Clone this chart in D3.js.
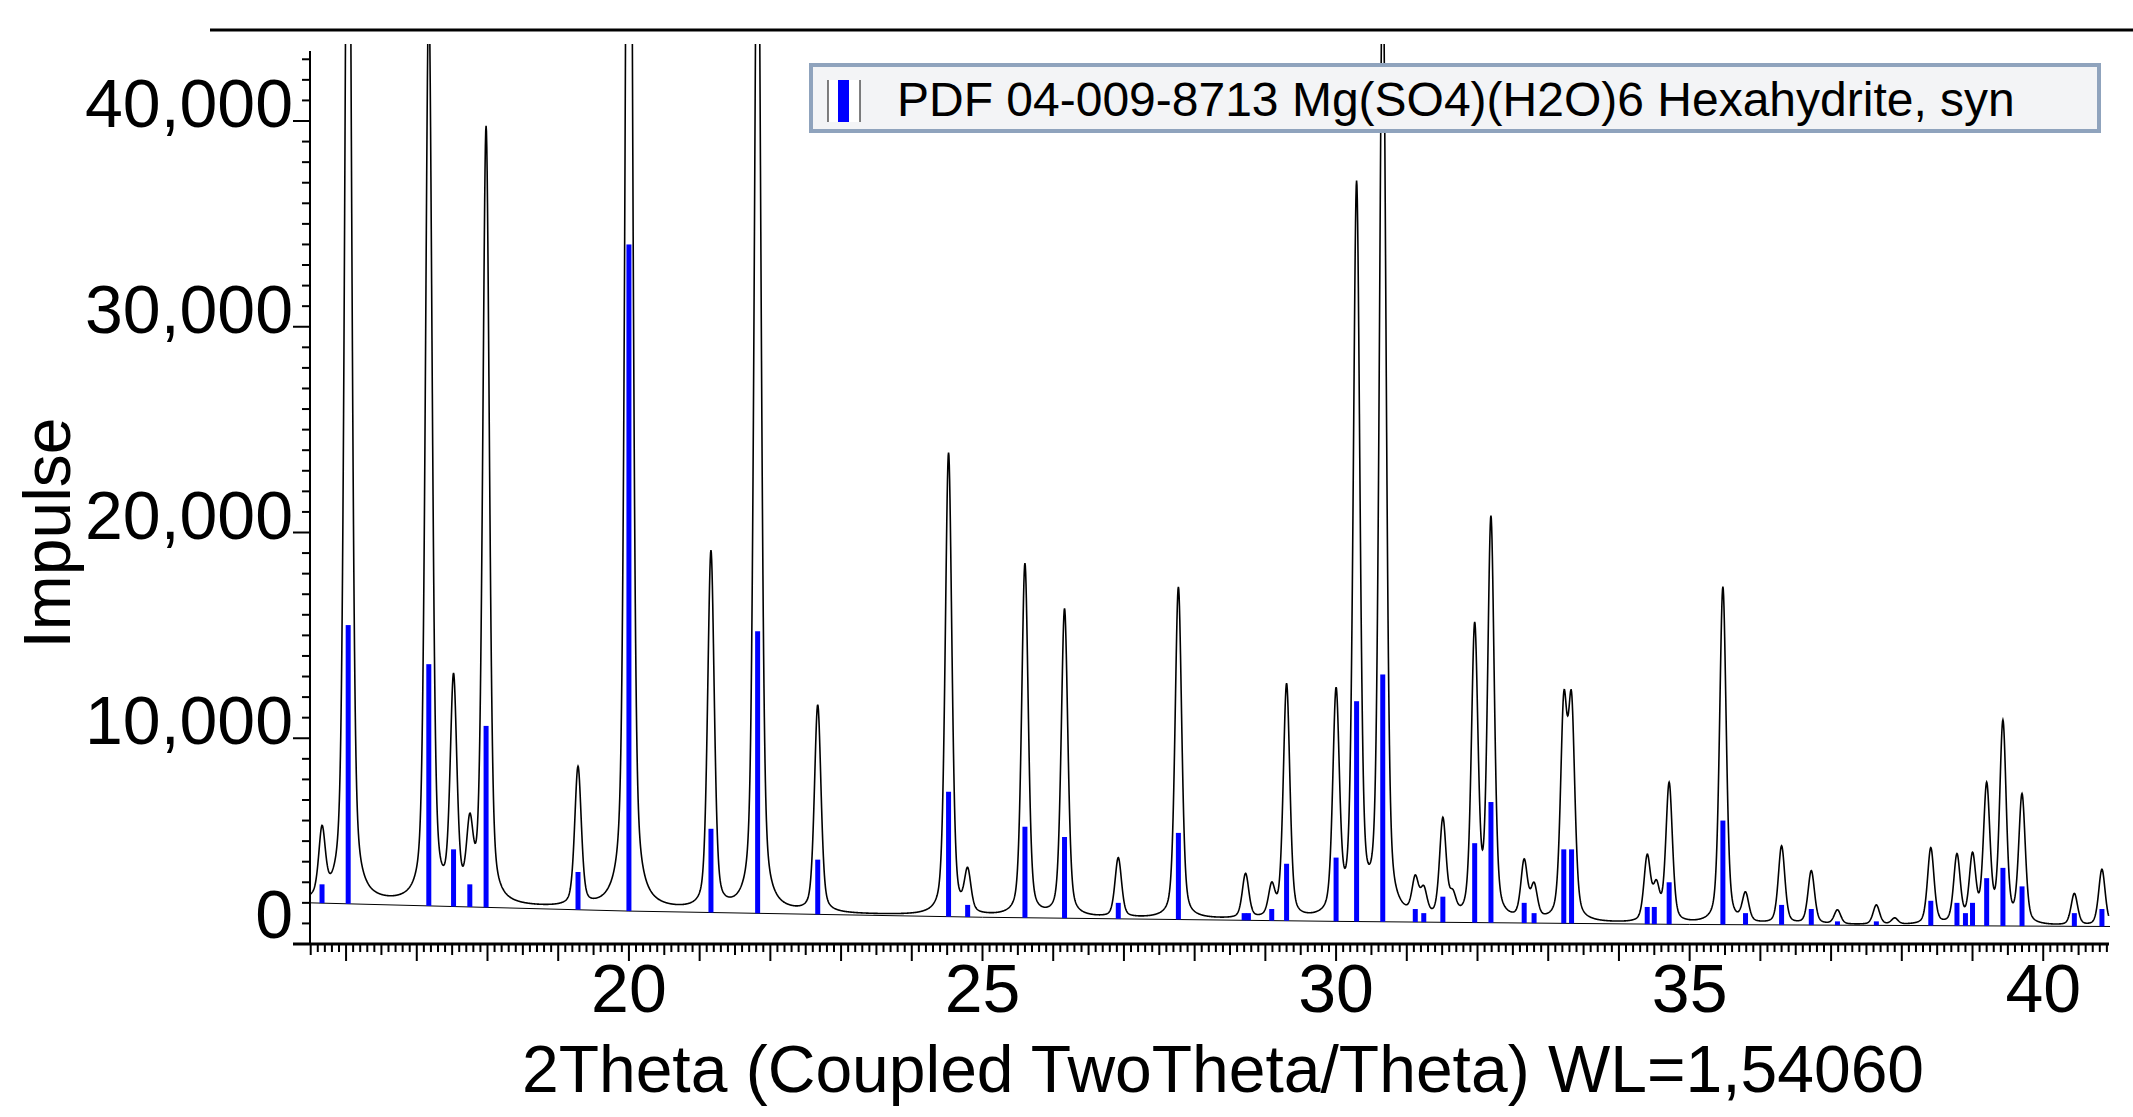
<!DOCTYPE html>
<html>
<head>
<meta charset="utf-8">
<script src="https://cdn.jsdelivr.net/npm/d3@7"></script>
<style>
  body { margin: 0; background: #fff; }
  text { font-family: "Liberation Sans", Arial, sans-serif; fill: #000; }
</style>
</head>
<body>
<div id="chart"></div>
<script>
// measured peaks: 2theta position and top of peak (counts incl. background)
var peakPos = [15.66, 16.03, 17.17, 17.52, 17.75, 17.98, 19.28, 20.0, 21.16, 21.82, 22.67,
  24.52, 24.79, 25.60, 26.16, 26.92, 27.77, 28.72, 29.09, 29.30, 30.0, 30.29, 30.66,
  31.12, 31.24, 31.51, 31.65, 31.96, 32.19, 32.66, 32.80, 33.22, 33.33, 34.40, 34.53,
  34.71, 35.47, 35.79, 36.30, 36.72, 37.09, 37.64, 37.90, 38.41, 38.78, 39.00, 39.20,
  39.43, 39.70, 40.44, 40.83];
var peakTop = [5200, 62000, 46000, 12400, 5100, 39500, 8400, 75000, 18900, 55000, 11500,
  23800, 3300, 18400, 16200, 4100, 17300, 3300, 2600, 12500, 11800, 36500, 48000,
  2800, 2300, 5800, 2000, 15100, 20400, 3800, 2600, 11000, 11000, 4100, 2600,
  7700, 17300, 2300, 4700, 3500, 1600, 1850, 1200, 4600, 4200, 4100, 7500,
  10600, 7100, 2400, 3600];

// background points
var bgPos = [15.5, 20, 25, 30, 35, 41];
var bgVal = [2000, 1600, 1300, 1100, 950, 850];

// PDF 04-009-8713 reference sticks
var stickPos = [15.66, 16.03, 17.17, 17.52, 17.75, 17.98, 19.28, 20.0, 21.16, 21.82, 22.67,
  24.52, 24.79, 25.60, 26.16, 26.92, 27.77, 28.70, 28.76, 29.09, 29.30, 30.0, 30.29, 30.66,
  31.12, 31.24, 31.51, 31.96, 32.19, 32.66, 32.80, 33.22, 33.33, 34.40, 34.50, 34.71,
  35.47, 35.79, 36.30, 36.72, 37.09, 37.64, 38.41, 38.78, 38.90, 39.00, 39.20, 39.43,
  39.70, 40.44, 40.83];
var stickTop = [2900, 15500, 13600, 4600, 2900, 10600, 3500, 34000, 5600, 15200, 4100,
  7400, 1900, 5700, 5200, 2000, 5400, 1500, 1500, 1700, 3900, 4200, 11800, 13100,
  1700, 1500, 2300, 4900, 6900, 2000, 1500, 4600, 4600, 1800, 1800, 3000,
  6000, 1500, 1900, 1700, 1100, 1100, 2100, 2000, 1500, 2000, 3200, 3700,
  2800, 1500, 1700];

var yTicks = [0, 10000, 20000, 30000, 40000];
var xTicks = [20, 25, 30, 35, 40];
var legendLabel = "PDF 04-009-8713 Mg(SO4)(H2O)6 Hexahydrite, syn";

var W = 2133, H = 1117;
var svg = d3.select("#chart").append("svg").attr("width", W).attr("height", H);

var x = d3.scaleLinear().domain([15.49, 40.93]).range([310, 2109]);
var y = d3.scaleLinear().domain([0, 40000]).range([944, 121]);
var bg = d3.scaleLinear().domain(bgPos).range(bgVal);

// pseudo-Voigt profile from the peak list
var fwhm = 0.11, eta = 0.4;
function profile(t) {
  var s = bg(t);
  for (var i = 0; i < peakPos.length; i++) {
    var d = (t - peakPos[i]) / (fwhm / 2);
    var g = Math.exp(-Math.LN2 * d * d), l = 1 / (1 + d * d);
    s += (peakTop[i] - bg(peakPos[i])) * (eta * l + (1 - eta) * g);
  }
  return s;
}
var pts = d3.range(15.49, 40.93, 0.005).map(function(t) { return [t, profile(t)]; });

svg.append("clipPath").attr("id", "clip").append("rect")
  .attr("x", 310).attr("y", 44).attr("width", 1800).attr("height", 900);

// top frame line
svg.append("line").attr("x1", 210).attr("x2", W).attr("y1", 30).attr("y2", 30)
  .attr("stroke", "#000").attr("stroke-width", 3);

var plot = svg.append("g").attr("clip-path", "url(#clip)");

// background line
plot.append("path")
  .attr("d", d3.line()(bgPos.map(function(t, i) { return [x(t), y(bgVal[i])]; })))
  .attr("fill", "none").attr("stroke", "#000").attr("stroke-width", 1);

// sticks
plot.selectAll(".stick").data(stickPos).enter().append("rect")
  .attr("x", function(d) { return x(d) - 2.5; })
  .attr("width", 5)
  .attr("y", function(d, i) { return y(stickTop[i]); })
  .attr("height", function(d, i) { return y(bg(d)) - y(stickTop[i]); })
  .attr("fill", "#0000ff");

// measured pattern
plot.append("path")
  .attr("d", d3.line().x(function(d) { return x(d[0]); }).y(function(d) { return y(d[1]); })(pts))
  .attr("fill", "none").attr("stroke", "#000").attr("stroke-width", 1.6);

// y axis
var yAx = svg.append("g");
yAx.append("line").attr("x1", 310).attr("x2", 310).attr("y1", 51).attr("y2", 944)
  .attr("stroke", "#000").attr("stroke-width", 2);
d3.range(1000, 43001, 1000).forEach(function(v) {
  var major = v % 10000 === 0;
  yAx.append("line").attr("x1", major ? 293 : 302).attr("x2", 310)
    .attr("y1", y(v)).attr("y2", y(v)).attr("stroke", "#000").attr("stroke-width", 2);
});
yAx.selectAll(".yl").data(yTicks).enter().append("text")
  .attr("x", 293).attr("y", function(d) { return y(d) + (d === 0 ? -6 : 6); })
  .attr("text-anchor", "end").attr("font-size", 68)
  .text(function(d) { return d3.format(",")(d); });

// x axis
var xAx = svg.append("g");
xAx.append("line").attr("x1", 293).attr("x2", 2109).attr("y1", 944).attr("y2", 944)
  .attr("stroke", "#000").attr("stroke-width", 3);
d3.range(155, 410).forEach(function(k) {
  var t = k / 10, len = k % 10 === 0 ? 17 : (k % 5 === 0 ? 11 : 8);
  if (t < 15.49) return;
  xAx.append("line").attr("x1", x(t)).attr("x2", x(t)).attr("y1", 944).attr("y2", 944 + len)
    .attr("stroke", "#000").attr("stroke-width", 2);
});
xAx.selectAll(".xl").data(xTicks).enter().append("text")
  .attr("x", function(d) { return x(d); }).attr("y", 1012)
  .attr("text-anchor", "middle").attr("font-size", 68)
  .text(function(d) { return d; });

// axis titles
svg.append("text").attr("x", 1223).attr("y", 1092).attr("text-anchor", "middle")
  .attr("font-size", 66).text("2Theta (Coupled TwoTheta/Theta) WL=1,54060");
svg.append("text").attr("transform", "translate(70,533) rotate(-90)")
  .attr("text-anchor", "middle").attr("font-size", 66).text("Impulse");

// legend
var lg = svg.append("g");
lg.append("rect").attr("x", 811).attr("y", 65).attr("width", 1288).attr("height", 66)
  .attr("fill", "#f3f4f6").attr("stroke", "#8fa3bd").attr("stroke-width", 4);
lg.append("rect").attr("x", 828).attr("y", 80).attr("width", 32).attr("height", 42).attr("fill", "#fff");
lg.append("line").attr("x1", 828).attr("x2", 828).attr("y1", 80).attr("y2", 122).attr("stroke", "#000");
lg.append("line").attr("x1", 860).attr("x2", 860).attr("y1", 80).attr("y2", 122).attr("stroke", "#000");
lg.append("rect").attr("x", 838).attr("y", 80).attr("width", 11).attr("height", 42).attr("fill", "#0000ff");
lg.append("text").attr("x", 897).attr("y", 116).attr("font-size", 48).text(legendLabel);
</script>
</body>
</html>
